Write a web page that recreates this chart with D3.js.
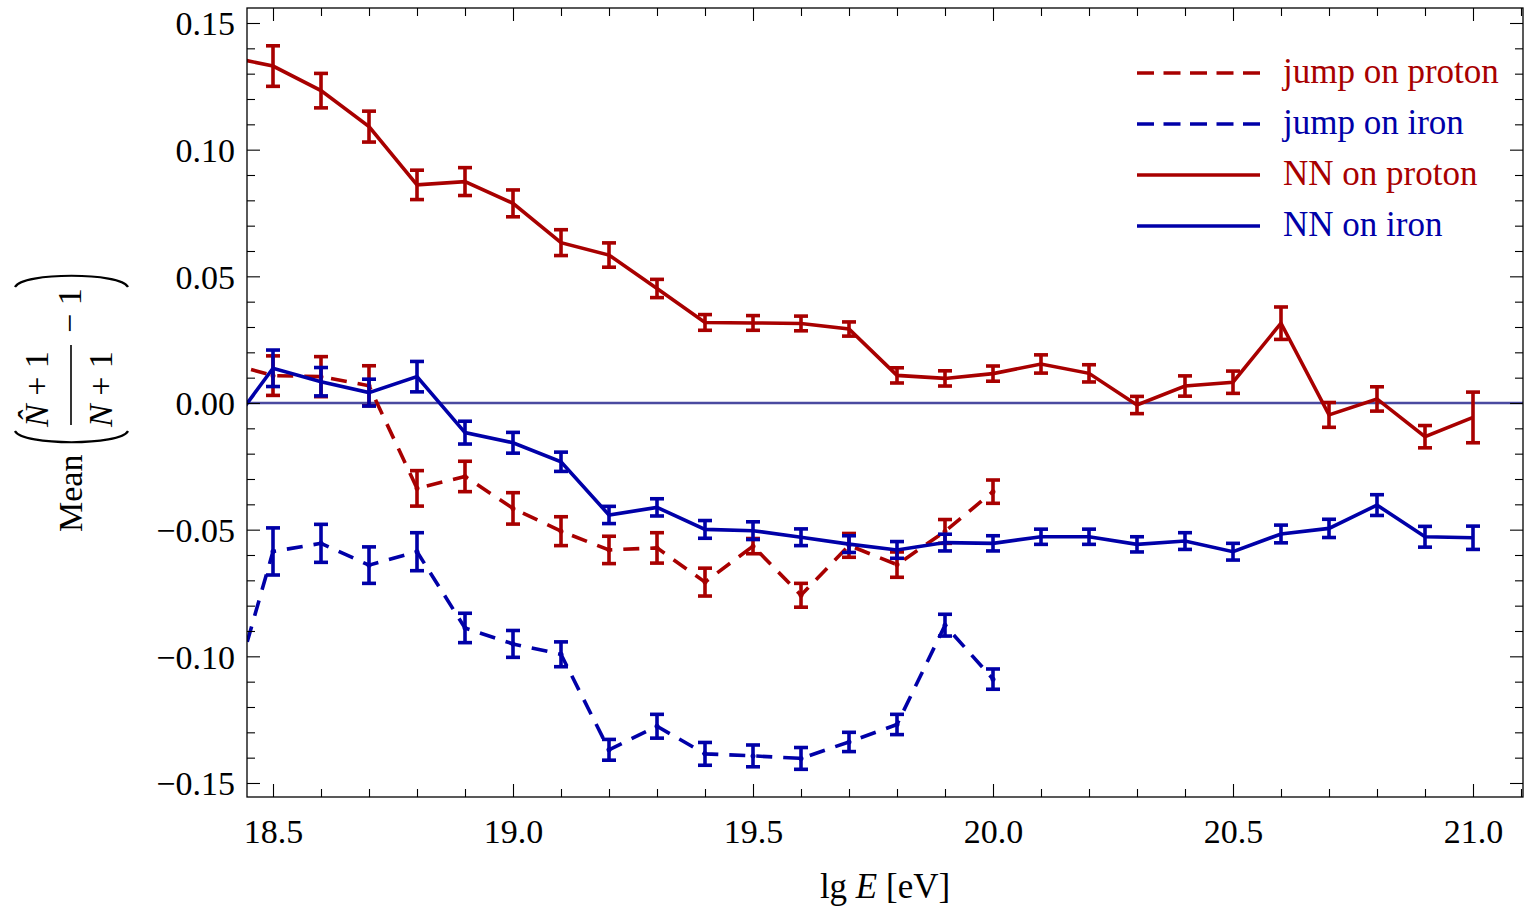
<!DOCTYPE html>
<html>
<head>
<meta charset="utf-8">
<script src="https://cdn.jsdelivr.net/npm/d3@7"></script>
<style>
  body { margin: 0; background: #fff; }
  svg text { font-family: "Liberation Serif", "Times New Roman", serif; }
</style>
</head>
<body>
<div id="chart"></div>
<script>
// energy bins (lg E)
let lgE_nn = [18.4, 18.5, 18.6, 18.7, 18.8, 18.9, 19.0, 19.1, 19.2, 19.3, 19.4, 19.5, 19.6, 19.7,
  19.8, 19.9, 20.0, 20.1, 20.2, 20.3, 20.4, 20.5, 20.6, 20.7, 20.8, 20.9, 21.0];
let lgE_jump = [18.4, 18.5, 18.6, 18.7, 18.8, 18.9, 19.0, 19.1, 19.2, 19.3, 19.4, 19.5, 19.6, 19.7,
  19.8, 19.9, 20.0];

// NN on proton
let nnProton = [0.137, 0.133, 0.1233, 0.1091, 0.0861, 0.0874, 0.0788, 0.0633, 0.0584, 0.0452, 0.0318,
  0.0316, 0.0314, 0.0292, 0.0109, 0.0097, 0.0116, 0.0154, 0.0117, -0.0008, 0.0067, 0.0082, 0.0315,
  -0.0047, 0.0016, -0.0133, -0.0057];
let nnProtonErr = [0.009, 0.008, 0.0068, 0.0061, 0.0058, 0.0055, 0.0053, 0.0051, 0.0048, 0.0036, 0.0031,
  0.0029, 0.0029, 0.0028, 0.003, 0.003, 0.003, 0.0036, 0.0034, 0.0034, 0.004, 0.0044, 0.0064,
  0.0049, 0.0048, 0.0044, 0.010];

// NN on iron
let nnIron = [-0.012, 0.0137, 0.0084, 0.0041, 0.0104, -0.0117, -0.0157, -0.0232, -0.0442, -0.0412, -0.0499,
  -0.0504, -0.053, -0.0557, -0.058, -0.0551, -0.0554, -0.0528, -0.0528, -0.0558, -0.0545, -0.0587,
  -0.0517, -0.0495, -0.0403, -0.0528, -0.0532];
let nnIronErr = [0.008, 0.0072, 0.0056, 0.0053, 0.006, 0.0045, 0.0041, 0.0038, 0.0034, 0.0034, 0.0035,
  0.0035, 0.0033, 0.0033, 0.0033, 0.0033, 0.003, 0.003, 0.003, 0.003, 0.0033, 0.0033,
  0.0035, 0.0036, 0.0041, 0.0041, 0.0046];

// jump on proton
let jumpProton = [0.016, 0.0108, 0.0104, 0.0068, -0.0337, -0.029, -0.0416, -0.0506, -0.058, -0.0572,
  -0.0707, -0.0565, -0.0759, -0.0562, -0.0638, -0.0507, -0.035];
let jumpProtonErr = [0.009, 0.0078, 0.0079, 0.0079, 0.007, 0.006, 0.0062, 0.0057, 0.0054, 0.006,
  0.0055, 0.003, 0.0047, 0.0047, 0.005, 0.0047, 0.0046];

// jump on iron
let jumpIron = [-0.125, -0.0586, -0.0554, -0.064, -0.0587, -0.0888, -0.0951, -0.0992, -0.1369, -0.1276,
  -0.1385, -0.1393, -0.1403, -0.1338, -0.1269, -0.0877, -0.109];
let jumpIronErr = [0.012, 0.0093, 0.0075, 0.0072, 0.0075, 0.0058, 0.0053, 0.0049, 0.0041, 0.0047,
  0.0045, 0.0043, 0.0043, 0.0038, 0.004, 0.0043, 0.004];

let xMajor = [18.5, 19.0, 19.5, 20.0, 20.5, 21.0];
let yMajor = [-0.15, -0.10, -0.05, 0.00, 0.05, 0.10, 0.15];

let red = "#a80000";
let blue = "#0000a8";

let svgWidth = 1533;
let svgHeight = 909;

// plot frame in pixels
let margin = { top: 8, right: 10, bottom: 112, left: 247 };
let width = svgWidth - margin.left - margin.right;
let height = svgHeight - margin.top - margin.bottom;

let svg = d3.select("#chart").append("svg")
  .attr("width", svgWidth)
  .attr("height", svgHeight);

let xScale = d3.scaleLinear()
  .domain([18.44583, 21.10417])
  .range([margin.left, margin.left + width]);

let yScale = d3.scaleLinear()
  .domain([-0.15553, 0.15592])
  .range([margin.top + height, margin.top]);

svg.append("clipPath").attr("id", "clip")
  .append("rect")
  .attr("x", margin.left).attr("y", margin.top)
  .attr("width", width).attr("height", height);

// zero line
svg.append("line")
  .attr("x1", margin.left).attr("x2", margin.left + width)
  .attr("y1", yScale(0)).attr("y2", yScale(0))
  .attr("stroke", "#4a4aa0")
  .attr("stroke-width", 2.4);

// helper to draw one series with error bars
function drawSeries(xs, ys, errs, color, dashed) {
  let data = xs.map((x, i) => ({ x: x, y: ys[i], e: errs[i] }));
  let g = svg.append("g").attr("clip-path", "url(#clip)");

  let line = d3.line().x(d => xScale(d.x)).y(d => yScale(d.y));
  g.append("path")
    .datum(data)
    .attr("d", line)
    .attr("fill", "none")
    .attr("stroke", color)
    .attr("stroke-width", 3.6)
    .attr("stroke-dasharray", dashed ? "16,11" : null);

  let bars = g.selectAll(".err").data(data).enter().append("g");
  bars.append("line")
    .attr("x1", d => xScale(d.x)).attr("x2", d => xScale(d.x))
    .attr("y1", d => yScale(d.y - d.e)).attr("y2", d => yScale(d.y + d.e))
    .attr("stroke", color).attr("stroke-width", 3.6);
  [-1, 1].forEach(s => {
    bars.append("line")
      .attr("x1", d => xScale(d.x) - 7).attr("x2", d => xScale(d.x) + 7)
      .attr("y1", d => yScale(d.y + s * d.e)).attr("y2", d => yScale(d.y + s * d.e))
      .attr("stroke", color).attr("stroke-width", 3.6);
  });
  if (dashed) {
    g.selectAll(".pt").data(data).enter().append("circle")
      .attr("cx", d => xScale(d.x)).attr("cy", d => yScale(d.y))
      .attr("r", 2.5).attr("fill", color);
  }
}

drawSeries(lgE_jump, jumpProton, jumpProtonErr, red, true);
drawSeries(lgE_jump, jumpIron, jumpIronErr, blue, true);
drawSeries(lgE_nn, nnProton, nnProtonErr, red, false);
drawSeries(lgE_nn, nnIron, nnIronErr, blue, false);

// frame
svg.append("rect")
  .attr("x", margin.left).attr("y", margin.top)
  .attr("width", width).attr("height", height)
  .attr("fill", "none")
  .attr("stroke", "#000")
  .attr("stroke-width", 1.3);

// ticks: major and minor, inward on all four sides
let xMinor = d3.range(185, 212).map(v => v / 10).filter(v => xMajor.every(m => Math.abs(m - v) > 1e-6));
let yMinor = d3.range(-15, 16).map(v => v / 100).filter(v => yMajor.every(m => Math.abs(m - v) > 1e-6));

let bottomMajor = d3.axisBottom(xScale).tickValues(xMajor).tickSize(-13).tickFormat(d3.format(".1f"));
let bottomMinor = d3.axisBottom(xScale).tickValues(xMinor).tickSize(-8).tickFormat("");
let topMajor = d3.axisTop(xScale).tickValues(xMajor).tickSize(-13).tickFormat("");
let topMinor = d3.axisTop(xScale).tickValues(xMinor).tickSize(-8).tickFormat("");
let leftMajor = d3.axisLeft(yScale).tickValues(yMajor).tickSize(-13)
  .tickFormat(d => d3.format(".2f")(d).replace("-", "\u2212"));
let leftMinor = d3.axisLeft(yScale).tickValues(yMinor).tickSize(-8).tickFormat("");
let rightMajor = d3.axisRight(yScale).tickValues(yMajor).tickSize(-13).tickFormat("");
let rightMinor = d3.axisRight(yScale).tickValues(yMinor).tickSize(-8).tickFormat("");

function addAxis(axis, tx, ty) {
  let g = svg.append("g")
    .attr("transform", `translate(${tx},${ty})`)
    .call(axis);
  g.select(".domain").remove();
  g.selectAll(".tick line").attr("stroke", "#000").attr("stroke-width", 1.1);
  return g;
}

let bx = addAxis(bottomMajor, 0, margin.top + height);
addAxis(bottomMinor, 0, margin.top + height);
addAxis(topMajor, 0, margin.top);
addAxis(topMinor, 0, margin.top);
let ly = addAxis(leftMajor, margin.left, 0);
addAxis(leftMinor, margin.left, 0);
addAxis(rightMajor, margin.left + width, 0);
addAxis(rightMinor, margin.left + width, 0);

bx.selectAll(".tick text")
  .attr("y", 0).attr("dy", null)
  .attr("transform", "translate(0,46)")
  .attr("font-size", "34px").attr("fill", "#000")
  .style("font-family", "'Liberation Serif', serif");
ly.selectAll(".tick text")
  .attr("x", -12).attr("dy", "0.35em")
  .attr("font-size", "34px").attr("fill", "#000")
  .style("font-family", "'Liberation Serif', serif");

// x axis title
let xt = svg.append("text")
  .attr("x", 885).attr("y", 898)
  .attr("text-anchor", "middle")
  .attr("font-size", "35px");
xt.append("tspan").text("lg ");
xt.append("tspan").attr("font-style", "italic").text("E");
xt.append("tspan").text(" [eV]");

// y axis title (rotated)
let yl = svg.append("g").attr("transform", "rotate(-90)");
yl.append("text")
  .attr("x", -532).attr("y", 82)
  .attr("font-size", "34px")
  .text("Mean");
let num = yl.append("text")
  .attr("x", -427).attr("y", 48)
  .attr("font-size", "34px");
num.append("tspan").attr("font-style", "italic").text("N\u0302");
num.append("tspan").text(" + 1");
let den = yl.append("text")
  .attr("x", -427).attr("y", 112)
  .attr("font-size", "34px");
den.append("tspan").attr("font-style", "italic").text("N");
den.append("tspan").text(" + 1");
yl.append("text")
  .attr("x", -333).attr("y", 81)
  .attr("font-size", "34px")
  .text("\u2212 1");

// fraction bar and big parentheses
svg.append("line")
  .attr("x1", 71).attr("x2", 71)
  .attr("y1", 345).attr("y2", 425)
  .attr("stroke", "#000").attr("stroke-width", 1.6);
svg.append("path")
  .attr("d", "M15,431 C22,446 121,446 128,431")
  .attr("fill", "none").attr("stroke", "#000").attr("stroke-width", 2.2);
svg.append("path")
  .attr("d", "M15,287 C22,272 121,272 128,287")
  .attr("fill", "none").attr("stroke", "#000").attr("stroke-width", 2.2);

// legend
let legendItems = [
  { label: "jump on proton", color: red, dashed: true, y: 73 },
  { label: "jump on iron", color: blue, dashed: true, y: 124 },
  { label: "NN on proton", color: red, dashed: false, y: 175 },
  { label: "NN on iron", color: blue, dashed: false, y: 226 }
];
let legend = svg.append("g");
legendItems.forEach(item => {
  legend.append("line")
    .attr("x1", 1137).attr("x2", 1260)
    .attr("y1", item.y).attr("y2", item.y)
    .attr("stroke", item.color)
    .attr("stroke-width", 3.6)
    .attr("stroke-dasharray", item.dashed ? "17,9.5" : null);
  legend.append("text")
    .attr("x", 1283).attr("y", item.y + 10)
    .attr("font-size", "35px")
    .attr("fill", item.color)
    .text(item.label);
});
</script>
</body>
</html>
